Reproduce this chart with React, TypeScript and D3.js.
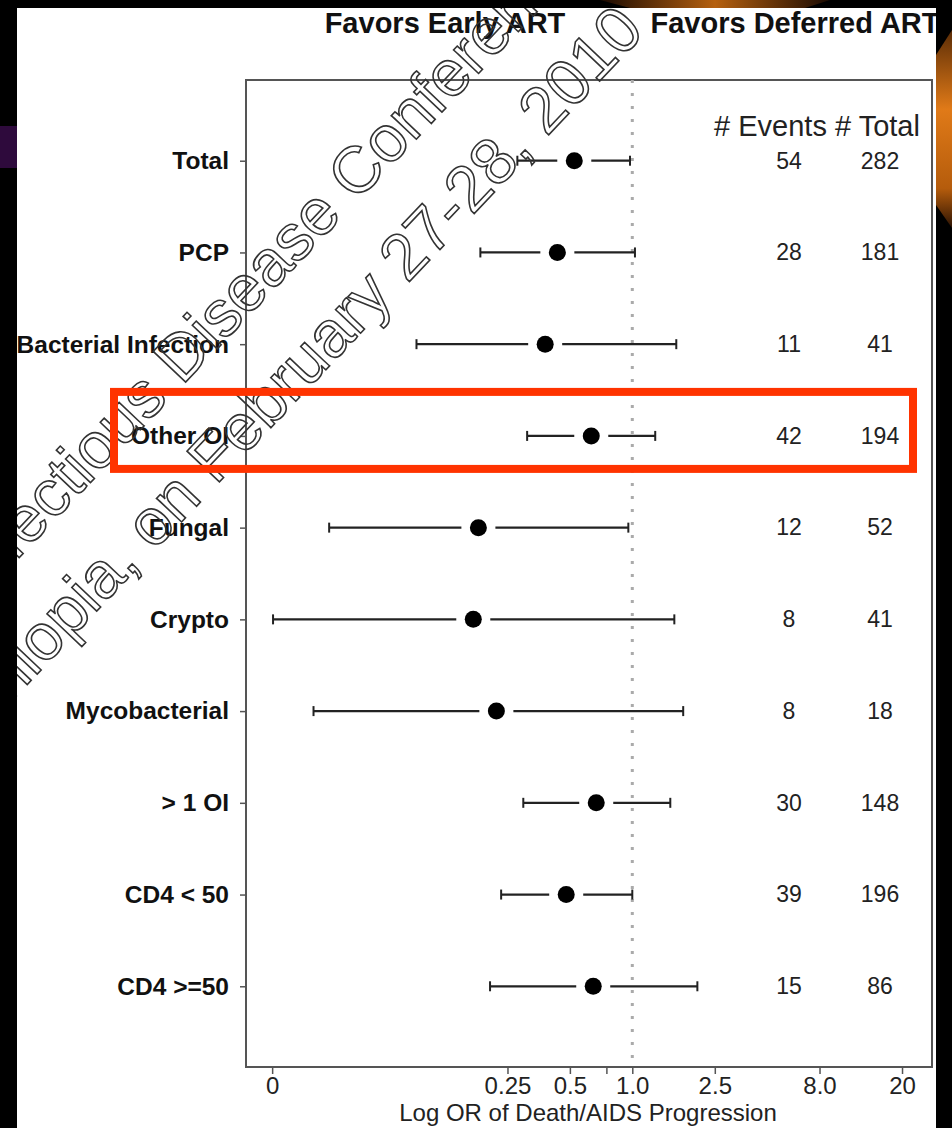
import React from "react";
import * as d3 from "d3";

const categories = [
  "Total",
  "PCP",
  "Bacterial Infection",
  "Other OI",
  "Fungal",
  "Crypto",
  "Mycobacterial",
  "> 1 OI",
  "CD4 < 50",
  "CD4 >=50",
];
const estimates = [0.525, 0.435, 0.38, 0.634, 0.181, 0.171, 0.221, 0.67, 0.48, 0.648];
const ciLow = [0.279, 0.185, 0.091, 0.311, 0.0345, 0.0185, 0.029, 0.298, 0.233, 0.206];
const ciHigh = [0.975, 1.03, 1.63, 1.29, 0.957, 1.595, 1.76, 1.525, 1.0, 2.06];
const events = [54, 28, 11, 42, 12, 8, 8, 30, 39, 15];
const totals = [282, 181, 41, 194, 52, 41, 18, 148, 196, 86];
const tickValues = [Math.exp(-4), 0.25, 0.5, 0.75, 1, 2.5, 8, 20];
const tickLabels = ["0", "0.25", "0.5", "", "1.0", "2.5", "8.0", "20"];
const highlighted = "Other OI";

const W = 952;
const H = 1128;
const FONT = "'Liberation Sans', Arial, Helvetica, sans-serif";

export default function App() {
  const ref = React.useRef<SVGSVGElement | null>(null);

  React.useEffect(() => {
    if (!ref.current) return;
    const svg = d3.select(ref.current);
    svg.selectAll("*").remove();

    const frame = { left: 246, right: 932, top: 80, bottom: 1067 };
    const x = d3
      .scaleLog()
      .domain([0.0137, 27.9])
      .range([frame.left, frame.right]);
    const y = d3
      .scalePoint<string>()
      .domain(categories)
      .range([frame.top, frame.bottom])
      .padding(0.88);

    const defs = svg.append("defs");
    const gTop = defs.append("linearGradient").attr("id", "swTop").attr("x1", 0).attr("x2", 1);
    gTop.append("stop").attr("offset", 0).attr("stop-color", "#1a0a02");
    gTop.append("stop").attr("offset", 0.5).attr("stop-color", "#b5600f");
    gTop.append("stop").attr("offset", 1).attr("stop-color", "#1a0a02");
    const gRight = defs.append("linearGradient").attr("id", "swRight").attr("x1", 0).attr("x2", 0).attr("y1", 0).attr("y2", 1);
    gRight.append("stop").attr("offset", 0).attr("stop-color", "#5a2c06");
    gRight.append("stop").attr("offset", 0.4).attr("stop-color", "#e07a18");
    gRight.append("stop").attr("offset", 0.8).attr("stop-color", "#b55c0c");
    gRight.append("stop").attr("offset", 1).attr("stop-color", "#2a1203");

    svg.append("rect").attr("width", W).attr("height", H).attr("fill", "#fff");

    // frame
    svg
      .append("rect")
      .attr("x", frame.left)
      .attr("y", frame.top)
      .attr("width", frame.right - frame.left)
      .attr("height", frame.bottom - frame.top)
      .attr("fill", "none")
      .attr("stroke", "#555")
      .attr("stroke-width", 2);

    // reference line at OR = 1
    svg
      .append("line")
      .attr("x1", x(1))
      .attr("x2", x(1))
      .attr("y1", frame.top)
      .attr("y2", frame.bottom)
      .attr("stroke", "#aaa")
      .attr("stroke-width", 3)
      .attr("stroke-dasharray", "3,10");

    // x axis
    const xAxis = svg
      .append("g")
      .attr("transform", `translate(0,${frame.bottom})`)
      .call(
        d3
          .axisBottom(x)
          .tickValues(tickValues)
          .tickFormat((_, i) => tickLabels[i])
          .tickSize(7)
      );
    xAxis.select(".domain").remove();
    xAxis.selectAll("line").attr("stroke", "#555").attr("stroke-width", 1.5);
    xAxis
      .selectAll("text")
      .attr("font-family", FONT)
      .attr("font-size", 24)
      .attr("fill", "#222");

    // y axis
    const yAxis = svg
      .append("g")
      .attr("transform", `translate(${frame.left},0)`)
      .call(d3.axisLeft(y).tickSize(6).tickPadding(11));
    yAxis.select(".domain").remove();
    yAxis.selectAll("line").attr("stroke", "#555").attr("stroke-width", 1.5);
    yAxis
      .selectAll("text")
      .attr("font-family", FONT)
      .attr("font-size", 24.5)
      .attr("font-weight", "bold")
      .attr("fill", "#111");

    // intervals
    const rows = categories.map((c, i) => ({
      c,
      est: estimates[i],
      lo: ciLow[i],
      hi: ciHigh[i],
      ev: events[i],
      tot: totals[i],
    }));
    const g = svg.append("g");
    const row = g
      .selectAll("g.row")
      .data(rows)
      .join("g")
      .attr("class", "row")
      .attr("transform", d => `translate(0,${y(d.c)})`);
    row
      .append("line")
      .attr("x1", d => x(d.lo))
      .attr("x2", d => x(d.hi))
      .attr("stroke", "#222")
      .attr("stroke-width", 2.2);
    row
      .append("line")
      .attr("x1", d => x(d.lo))
      .attr("x2", d => x(d.lo))
      .attr("y1", -5)
      .attr("y2", 5)
      .attr("stroke", "#222")
      .attr("stroke-width", 2);
    row
      .append("line")
      .attr("x1", d => x(d.hi))
      .attr("x2", d => x(d.hi))
      .attr("y1", -5)
      .attr("y2", 5)
      .attr("stroke", "#222")
      .attr("stroke-width", 2);
    // white gap that breaks the line around the estimate
    row
      .append("rect")
      .attr("x", d => x(d.est) - 17)
      .attr("y", -4)
      .attr("width", 34)
      .attr("height", 8)
      .attr("fill", "#fff");
    row
      .append("circle")
      .attr("cx", d => x(d.est))
      .attr("r", 8.5)
      .attr("fill", "#000");
    row
      .append("text")
      .attr("x", 789)
      .attr("dy", "0.34em")
      .attr("text-anchor", "middle")
      .attr("font-family", FONT)
      .attr("font-size", 23)
      .attr("fill", "#222")
      .text(d => d.ev);
    row
      .append("text")
      .attr("x", 880)
      .attr("dy", "0.34em")
      .attr("text-anchor", "middle")
      .attr("font-family", FONT)
      .attr("font-size", 23)
      .attr("fill", "#222")
      .text(d => d.tot);

    svg
      .append("text")
      .attr("x", 817)
      .attr("y", 136)
      .attr("text-anchor", "middle")
      .attr("font-family", FONT)
      .attr("font-size", 29)
      .attr("fill", "#222")
      .text("# Events # Total");

    svg
      .append("text")
      .attr("x", 445)
      .attr("y", 33)
      .attr("text-anchor", "middle")
      .attr("font-family", FONT)
      .attr("font-size", 29)
      .attr("font-weight", "bold")
      .attr("fill", "#111")
      .text("Favors Early ART");
    svg
      .append("text")
      .attr("x", 795)
      .attr("y", 33)
      .attr("text-anchor", "middle")
      .attr("font-family", FONT)
      .attr("font-size", 29)
      .attr("font-weight", "bold")
      .attr("fill", "#111")
      .text("Favors Deferred ART");

    svg
      .append("text")
      .attr("x", 588)
      .attr("y", 1121)
      .attr("text-anchor", "middle")
      .attr("font-family", FONT)
      .attr("font-size", 24)
      .attr("fill", "#222")
      .text("Log OR of Death/AIDS Progression");

    // watermark
    const wm = svg
      .append("g")
      .attr("font-family", FONT)
      .attr("font-size", 65)
      .attr("fill", "none")
      .attr("stroke", "#333")
      .attr("stroke-width", 1.6);
    wm.append("text")
      .attr("transform", "translate(-22,601) rotate(-46.5)")
      .text("Infectious Disease Conference");
    wm.append("text")
      .attr("transform", "translate(-33,748) rotate(-46.5)")
      .text("Ethiopia, on February 27-28, 2010");

    // slide border
    svg.append("rect").attr("x", 0).attr("y", 0).attr("width", W).attr("height", 8).attr("fill", "#000");
    svg.append("rect").attr("x", 0).attr("y", 0).attr("width", 17).attr("height", H).attr("fill", "#000");
    svg.append("rect").attr("x", 936).attr("y", 0).attr("width", 16).attr("height", H).attr("fill", "#000");
    svg.append("rect").attr("x", 0).attr("y", 126).attr("width", 17).attr("height", 42).attr("fill", "#2e0a3c");
    svg.append("path").attr("d", "M600,0 L830,0 L805,8 L630,8 Z").attr("fill", "url(#swTop)");
    svg.append("path").attr("d", "M936,55 L952,30 L952,228 L936,205 Z").attr("fill", "url(#swRight)");

    // highlight box
    const yh = y(highlighted)!;
    svg
      .append("rect")
      .attr("x", 114)
      .attr("y", yh - 44)
      .attr("width", 799)
      .attr("height", 77)
      .attr("fill", "none")
      .attr("stroke", "#ff3300")
      .attr("stroke-width", 8);
  }, []);

  return (
    <svg
      ref={ref}
      width={W}
      height={H}
      style={{ position: "absolute", left: 0, top: 0, display: "block" }}
    ></svg>
  );
}
